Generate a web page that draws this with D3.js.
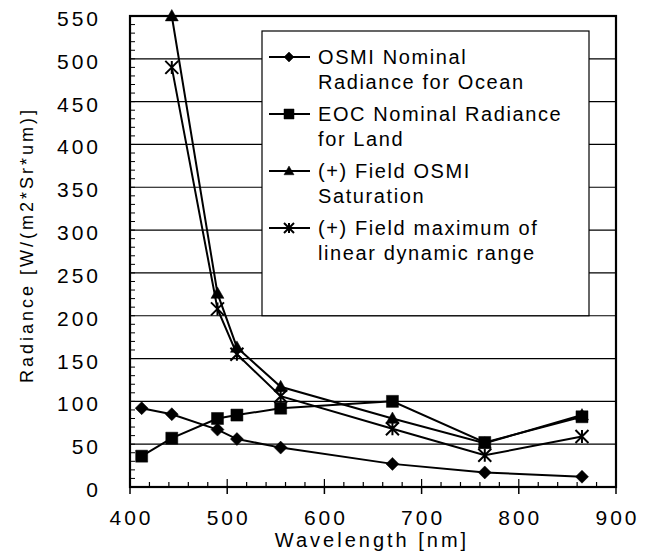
<!DOCTYPE html>
<html>
<head>
<meta charset="utf-8">
<script src="https://cdn.jsdelivr.net/npm/d3@7"></script>
<style>
  body { margin: 0; background: #fff; }
  text { font-family: "Liberation Sans", Arial, sans-serif; fill: #000; }
</style>
</head>
<body>
<div id="chart"></div>
<script>
const wavelengths = [412, 443, 490, 510, 555, 670, 765, 865]
const osmiOcean = [92, 85, 67, 56, 46, 27, 17, 12]
const eocLand = [36, 57, 80, 84, 92, 100, 52, 82]
const osmiSaturation = [null, 550, 226, 163, 117, 80, 51, 84]
const maxLinear = [null, 490, 208, 155, 106, 68, 37, 59]

const seriesNames = [
    ["OSMI Nominal", "Radiance for Ocean"],
    ["EOC Nominal Radiance", "for Land"],
    ["(+) Field OSMI", "Saturation"],
    ["(+) Field maximum of", "linear dynamic range"]
]
const seriesValues = [osmiOcean, eocLand, osmiSaturation, maxLinear]
const symbols = ["diamond", "square", "triangle", "star"]

const xTicks = [400, 500, 600, 700, 800, 900]
const yTicks = d3.range(0, 551, 50)

const width = 648, height = 556
const margin = { left: 130, right: 32, top: 16, bottom: 69 }

const svg = d3.select("#chart").append("svg")
    .attr("width", width)
    .attr("height", height)

const x = d3.scaleLinear().domain([400, 900]).range([margin.left, width - margin.right])
const y = d3.scaleLinear().domain([0, 550]).range([height - margin.bottom, margin.top])

// gridlines
svg.append("g")
    .selectAll("line")
    .data(yTicks)
    .join("line")
    .attr("x1", x(400)).attr("x2", x(900))
    .attr("y1", d => y(d)).attr("y2", d => y(d))
    .attr("stroke", "#000").attr("stroke-width", 1.2)

// minor ticks
svg.append("g")
    .selectAll("line")
    .data(d3.range(0, 551, 10))
    .join("line")
    .attr("x1", x(400)).attr("x2", x(400) + 5)
    .attr("y1", d => y(d)).attr("y2", d => y(d))
    .attr("stroke", "#000").attr("stroke-width", 1)

svg.append("g")
    .selectAll("line")
    .data(d3.range(400, 901, 20))
    .join("line")
    .attr("x1", d => x(d)).attr("x2", d => x(d))
    .attr("y1", y(0)).attr("y2", d => y(0) - (d % 100 === 0 ? 8 : 5))
    .attr("stroke", "#000").attr("stroke-width", 1.2)

svg.append("g")
    .selectAll("line")
    .data(xTicks)
    .join("line")
    .attr("x1", d => x(d)).attr("x2", d => x(d))
    .attr("y1", y(0)).attr("y2", y(0) + 7)
    .attr("stroke", "#000").attr("stroke-width", 1.5)

// frame
svg.append("rect")
    .attr("x", x(400)).attr("y", y(550))
    .attr("width", x(900) - x(400)).attr("height", y(0) - y(550))
    .attr("fill", "none").attr("stroke", "#000").attr("stroke-width", 2.2)

// tick labels
svg.append("g")
    .selectAll("text")
    .data(yTicks)
    .join("text")
    .attr("x", 101)
    .attr("y", d => y(d) + 10)
    .attr("text-anchor", "end")
    .attr("font-size", 21)
    .attr("letter-spacing", 3)
    .text(d => d)

svg.append("g")
    .selectAll("text")
    .data(xTicks)
    .join("text")
    .attr("x", d => x(d) + 1.5)
    .attr("y", 525)
    .attr("text-anchor", "middle")
    .attr("font-size", 21)
    .attr("letter-spacing", 3)
    .text(d => d)

svg.append("text")
    .attr("x", 372).attr("y", 547)
    .attr("text-anchor", "middle")
    .attr("font-size", 20)
    .attr("letter-spacing", 3)
    .text("Wavelength [nm]")

svg.append("text")
    .attr("transform", "translate(33,245) rotate(-90)")
    .attr("text-anchor", "middle")
    .attr("font-size", 18)
    .attr("letter-spacing", 3)
    .text("Radiance [W/(m2*Sr*um)]")

const markerPath = (s, r) => {
    if (s === "diamond") return `M0,${-r}L${r},0L0,${r}L${-r},0Z`
    if (s === "square") return `M${-r},${-r}H${r}V${r}H${-r}Z`
    if (s === "triangle") return `M0,${-r}L${r},${r * 0.75}L${-r},${r * 0.75}Z`
    return `M${-r},${-r}L${r},${r}M${-r},${r}L${r},${-r}M0,${-r}L0,${r}`
}

const drawSymbol = (g, s, cx, cy, r) => {
    g.append("path")
        .attr("d", markerPath(s, r))
        .attr("transform", `translate(${cx},${cy})`)
        .attr("fill", s === "star" ? "none" : "#000")
        .attr("stroke", "#000")
        .attr("stroke-width", s === "star" ? 2 : 0.5)
}

const markerSize = { diamond: 6.5, square: 6, triangle: 6.5, star: 6.5 }

const line = d3.line()
    .defined(d => d[1] !== null)
    .x(d => x(d[0]))
    .y(d => y(d[1]))

seriesValues.forEach((vals, i) => {
    const pts = wavelengths.map((w, j) => [w, vals[j]])
    const g = svg.append("g")
    g.append("path")
        .attr("d", line(pts))
        .attr("fill", "none")
        .attr("stroke", "#000")
        .attr("stroke-width", 2)
    pts.filter(p => p[1] !== null)
        .forEach(p => drawSymbol(g, symbols[i], x(p[0]), y(p[1]), markerSize[symbols[i]]))
})

// legend
const lg = svg.append("g")
lg.append("rect")
    .attr("x", 262).attr("y", 31)
    .attr("width", 327).attr("height", y(200) - 31)
    .attr("fill", "#fff").attr("stroke", "#000").attr("stroke-width", 1.2)

seriesNames.forEach((name, i) => {
    const ly = 57 + i * 57
    lg.append("line")
        .attr("x1", 269).attr("x2", 310)
        .attr("y1", ly).attr("y2", ly)
        .attr("stroke", "#000").attr("stroke-width", 2)
    drawSymbol(lg, symbols[i], 289, ly, 5)
    name.forEach((t, k) => {
        lg.append("text")
            .attr("x", 318).attr("y", ly + 7 + k * 25)
            .attr("font-size", 20)
            .attr("letter-spacing", 1.6)
            .text(t)
    })
})
</script>
</body>
</html>
